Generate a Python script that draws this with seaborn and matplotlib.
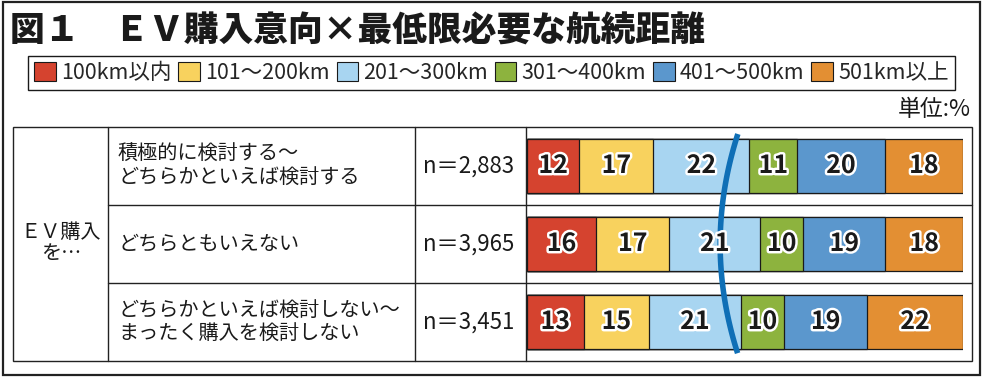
import matplotlib
matplotlib.use('Agg')
import matplotlib.pyplot as plt
import matplotlib.patheffects as pe
from matplotlib.patches import Patch, Rectangle
import numpy as np
import pandas as pd
import seaborn as sns

sns.set_theme(style='white')
plt.rcParams['font.family'] = ['Noto Sans CJK JP', 'DejaVu Sans']

# data
ranges = ['100km以内', '101～200km', '201～300km', '301～400km', '401～500km', '501km以上']
groups = ['積極的に検討する～\nどちらかといえば検討する',
          'どちらともいえない',
          'どちらかといえば検討しない～\nまったく購入を検討しない']
n_labels = ['n＝2,883', 'n＝3,965', 'n＝3,451']
v_100 = [12, 16, 13]
v_200 = [17, 17, 15]
v_300 = [22, 21, 21]
v_400 = [11, 10, 10]
v_500 = [20, 19, 19]
v_501 = [18, 18, 22]
colors = ['#D5432F', '#F8D25E', '#A8D5F1', '#8DB33E', '#5B97CD', '#E38F33']

df = pd.DataFrame({'group': groups, ranges[0]: v_100, ranges[1]: v_200, ranges[2]: v_300,
                   ranges[3]: v_400, ranges[4]: v_500, ranges[5]: v_501})
vals = df[ranges]
pct = vals.div(vals.sum(axis=1), axis=0) * 100  # bars run to the full width
cum = pct.cumsum(axis=1)

W, H = 986, 377
fig = plt.figure(figsize=(W / 100, H / 100), dpi=100)

# background axes in pixel coords for the table frame and texts
bg = fig.add_axes([0, 0, 1, 1])
bg.set_xlim(0, W)
bg.set_ylim(H, 0)
bg.axis('off')

bg.add_patch(Rectangle((3, 2), 977, 373, fill=False, edgecolor='#222222', lw=1.6))
bg.add_patch(Rectangle((13, 127), 959, 234, fill=False, edgecolor='#222222', lw=1.0))
for x in [108, 415, 526]:
    bg.plot([x, x], [127, 361], color='#222222', lw=1.0)
for y in [204.5, 283]:
    bg.plot([108, 972], [y, y], color='#222222', lw=1.0)

bg.text(10, 31, '図１　ＥＶ購入意向×最低限必要な航続距離', fontsize=25, fontweight='heavy',
        va='center', ha='left', color='#1a1a1a')
bg.text(971, 110, '単位:%', fontsize=16.5, va='center', ha='right', color='#1a1a1a')
bg.text(61, 243, 'ＥＶ購入\nを…', fontsize=14.5, va='center', ha='center',
        linespacing=1.05, color='#1a1a1a')

row_y = [166, 244, 322]
for i, g in enumerate(groups):
    bg.text(118, row_y[i], g, fontsize=14.5, va='center', ha='left', linespacing=1.15,
            color='#1a1a1a')
    bg.text(469, row_y[i], n_labels[i], fontsize=16, va='center', ha='center', color='#1a1a1a')

# stacked bars: cumulative totals drawn from the widest to the narrowest
ax = fig.add_axes([527 / W, 1 - 361 / H, 436 / W, 234 / H])
for k in range(len(ranges) - 1, -1, -1):
    sns.barplot(x=cum[ranges[k]], y=df['group'], orient='h', color=colors[k], width=0.69,
                edgecolor='#1a1a1a', linewidth=0.9, saturation=1, ax=ax)

ax.set_xlim(0, 100)
ax.set_ylim(2.5, -0.5)
ax.axis('off')

left = cum - pct
for i in range(len(groups)):
    for k, r in enumerate(ranges):
        ax.text(left.iloc[i, k] + pct.iloc[i, k] / 2, i, str(vals.iloc[i, k]), ha='center',
                va='center', fontsize=18, fontweight='bold', color='#1a1a1a',
                path_effects=[pe.withStroke(linewidth=3.5, foreground='white')])

# blue arc marking the middle
yy = np.linspace(-0.41, 2.40, 60)
xx = 44.3 + 2.04 * (yy - 1.0) ** 2
ax.plot(xx, yy, color='#0F6FB6', lw=4, solid_capstyle='butt', clip_on=False)

# legend
handles = [Patch(facecolor=c, edgecolor='#1a1a1a', linewidth=0.8) for c in colors]
fig.legend(handles, ranges, loc='center', ncol=6, mode='expand',
           bbox_to_anchor=(28 / W, 1 - 91 / H, 927 / W, 36 / H), fontsize=15.5,
           handlelength=1.0, handleheight=1.0, handletextpad=0.25, columnspacing=0.6,
           borderaxespad=0, borderpad=0.3, fancybox=False, framealpha=1,
           edgecolor='#1a1a1a')
fig.legends[0].get_frame().set_linewidth(1.0)

fig.savefig('out.png', dpi=100)
